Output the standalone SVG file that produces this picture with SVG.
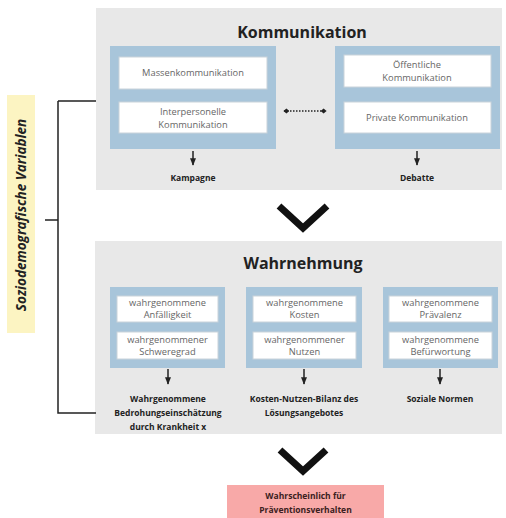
<svg xmlns="http://www.w3.org/2000/svg" width="506" height="518" viewBox="0 0 506 518">
<defs>
<style>
.panel{fill:#e8e8e8}
.blue{fill:#a8c5da}
.inner{fill:#ffffff;stroke:#c9d3da;stroke-width:1}
.t{font-family:"Open Sans","Noto Sans",sans-serif;font-size:9.3px;fill:#666;text-anchor:middle}
.title{font-family:"Open Sans","Noto Sans",sans-serif;font-size:16px;font-weight:bold;fill:#222;text-anchor:middle}
.lbl{font-family:"Open Sans","Noto Sans",sans-serif;font-size:8.5px;font-weight:bold;fill:#222;text-anchor:middle}
.arr{stroke:#222;stroke-width:1.5;fill:none}
.chev{stroke:#111;stroke-width:7;fill:none;stroke-linejoin:miter}
</style>
<marker id="ah" viewBox="0 0 10 10" refX="9" refY="5" markerWidth="5" markerHeight="5" orient="auto-start-reverse">
<path d="M0,1 L10,5 L0,9 z" fill="#222"/>
</marker>
<marker id="dh" viewBox="0 0 10 10" refX="9" refY="5" markerWidth="4" markerHeight="4" orient="auto-start-reverse">
<path d="M0,5 L5,1 L10,5 L5,9 z" fill="#222"/>
</marker>
</defs>

<g id="sozio">
<rect x="7" y="95" width="28" height="238" fill="#fcf4c2"/>
<text transform="translate(26,215) rotate(-90)" font-family="'Open Sans','Noto Sans',sans-serif" font-size="13.5" font-weight="bold" font-style="italic" fill="#222" text-anchor="middle">Soziodemografische Variablen</text>
</g>

<g id="kommunikation">
<rect class="panel" x="96" y="8" width="406" height="182"/>
<text class="title" x="302" y="38">Kommunikation</text>
</g>
<g id="komm-links">
<rect class="blue" x="110" y="46" width="166" height="103"/>
<rect class="inner" x="119" y="57" width="148" height="32"/>
<text class="t" x="193" y="76">Massenkommunikation</text>
<rect class="inner" x="119" y="102" width="148" height="31"/>
<text class="t" x="193" y="115">Interpersonelle</text>
<text class="t" x="193" y="128">Kommunikation</text>
</g>
<g id="komm-rechts">
<rect class="blue" x="335" y="46" width="165" height="103"/>
<rect class="inner" x="344" y="55" width="147" height="32"/>
<text class="t" x="417" y="68">Öffentliche</text>
<text class="t" x="417" y="81">Kommunikation</text>
<rect class="inner" x="344" y="102" width="147" height="31"/>
<text class="t" x="417" y="121">Private Kommunikation</text>
</g>
<g id="kampagne"><text class="lbl" x="193" y="181">Kampagne</text></g>
<g id="debatte"><text class="lbl" x="417" y="181">Debatte</text></g>

<g id="wahrnehmung">
<rect class="panel" x="95" y="241" width="407" height="193"/>
<text class="title" x="303" y="269">Wahrnehmung</text>
</g>
<g id="w1">
<rect class="blue" x="110" y="287" width="115" height="81"/>
<rect class="inner" x="117" y="296" width="101" height="26"/>
<text class="t" x="167.500" y="306">wahrgenommene</text>
<text class="t" x="167.500" y="318">Anfälligkeit</text>
<rect class="inner" x="117" y="332" width="101" height="27"/>
<text class="t" x="167.500" y="343">wahrgenommener</text>
<text class="t" x="167.500" y="355">Schweregrad</text>
</g>
<g id="w2">
<rect class="blue" x="246" y="287" width="116" height="81"/>
<rect class="inner" x="253" y="296" width="103" height="26"/>
<text class="t" x="304.500" y="306">wahrgenommene</text>
<text class="t" x="304.500" y="318">Kosten</text>
<rect class="inner" x="253" y="332" width="103" height="27"/>
<text class="t" x="304.500" y="343">wahrgenommener</text>
<text class="t" x="304.500" y="355">Nutzen</text>
</g>
<g id="w3">
<rect class="blue" x="383" y="287" width="115" height="81"/>
<rect class="inner" x="389" y="296" width="103" height="26"/>
<text class="t" x="440.500" y="306">wahrgenommene</text>
<text class="t" x="440.500" y="318">Prävalenz</text>
<rect class="inner" x="389" y="332" width="103" height="27"/>
<text class="t" x="440.500" y="343">wahrgenommene</text>
<text class="t" x="440.500" y="355">Befürwortung</text>
</g>
<g id="l1"><text class="lbl" x="168" y="402">Wahrgenommene</text><text class="lbl" x="168" y="416">Bedrohungseinschätzung</text><text class="lbl" x="168" y="430">durch Krankheit x</text></g>
<g id="l2"><text class="lbl" x="304" y="402">Kosten-Nutzen-Bilanz des</text><text class="lbl" x="304" y="416">Lösungsangebotes</text></g>
<g id="l3"><text class="lbl" x="440" y="402">Soziale Normen</text></g>

<g id="ergebnis">
<rect x="227" y="485" width="157" height="33" fill="#f8a9a8"/>
<text class="lbl" x="305.500" y="499" style="fill:#3a2020">Wahrscheinlich für</text>
<text class="lbl" x="305.500" y="513" style="fill:#3a2020">Präventionsverhalten</text>
</g>

<g id="connectors">
<path class="arr" d="M58,101 H96 M58,101 V413 H96 M45,220 H58"/>
<line class="arr" x1="284" y1="111" x2="326" y2="111" stroke-dasharray="1.5 1.5" marker-start="url(#dh)" marker-end="url(#dh)"/>
<line class="arr" x1="193" y1="151" x2="193" y2="165" marker-end="url(#ah)"/>
<line class="arr" x1="417" y1="151" x2="417" y2="165" marker-end="url(#ah)"/>
<line class="arr" x1="168" y1="369" x2="168" y2="384" marker-end="url(#ah)"/>
<line class="arr" x1="304" y1="369" x2="304" y2="384" marker-end="url(#ah)"/>
<line class="arr" x1="440" y1="369" x2="440" y2="384" marker-end="url(#ah)"/>
<path class="chev" d="M279,206 L303,228 L327,206"/>
<path class="chev" d="M280,450 L303,471 L326,450"/>
</g>
</svg>
